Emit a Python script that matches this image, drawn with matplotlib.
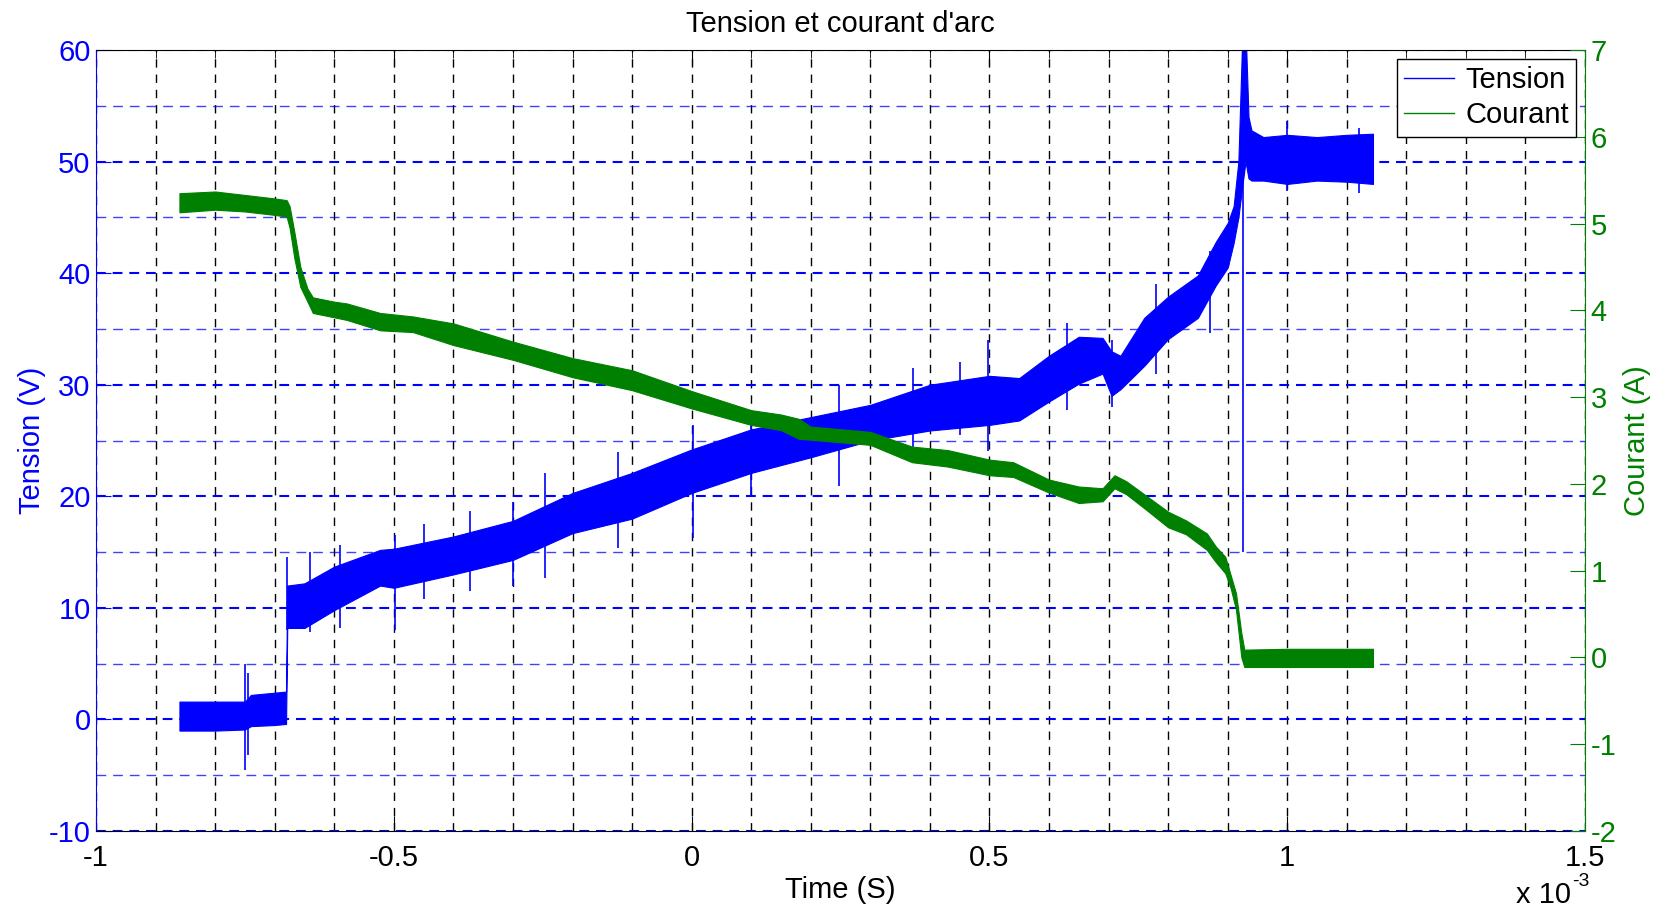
import numpy as np
import matplotlib.pyplot as plt
from matplotlib.ticker import MultipleLocator
from matplotlib.lines import Line2D

plt.rcParams['font.family'] = ['Liberation Sans', 'DejaVu Sans']
plt.rcParams['font.size'] = 21
plt.rcParams['axes.unicode_minus'] = False

# time in ms (axis shows x 10^-3 s)
tension_t = [-0.86, -0.80, -0.75, -0.74, -0.70, -0.681, -0.679, -0.65, -0.60, -0.523,
             -0.50, -0.40, -0.30, -0.20, -0.10, 0.0, 0.10, 0.20, 0.30, 0.40,
             0.50, 0.55, 0.60, 0.65, 0.69, 0.705, 0.72, 0.76, 0.80, 0.85,
             0.88, 0.90, 0.91, 0.918, 0.925, 0.93, 0.935, 0.94, 0.96, 1.00,
             1.05, 1.10, 1.144]
tension_lo = [-1.0, -1.0, -0.9, -0.6, -0.5, -0.4, 8.2, 8.2, 9.8, 12.0,
              11.8, 13.0, 14.3, 16.7, 18.0, 20.3, 22.1, 23.5, 25.0, 25.9,
              26.4, 26.8, 28.5, 30.1, 31.0, 29.0, 29.6, 31.7, 34.1, 36.0,
              38.9, 40.5, 42.7, 45.0, 48.0, 50.0, 48.5, 48.3, 48.3, 48.0,
              48.3, 48.2, 48.0]
tension_hi = [1.6, 1.6, 1.6, 2.2, 2.4, 2.5, 12.0, 12.2, 13.7, 15.2,
              15.3, 16.4, 17.8, 20.3, 22.1, 24.2, 26.0, 27.1, 28.2, 30.0,
              30.8, 30.6, 32.6, 34.3, 34.2, 33.0, 32.6, 36.0, 37.9, 39.8,
              42.8, 44.5, 46.0, 50.0, 62.0, 62.0, 54.0, 52.8, 52.2, 52.4,
              52.2, 52.4, 52.5]

# isolated spikes on the tension trace
spike_t = [-0.75, -0.745, -0.68, -0.64, -0.59, -0.498, -0.45, -0.372, -0.30, -0.246,
           -0.124, 0.002, 0.10, 0.248, 0.372, 0.45, 0.498, 0.63, 0.706, 0.78,
           0.87, 0.926, 0.999, 1.12]
spike_lo = [-4.5, -3.2, 8.0, 7.8, 8.2, 8.0, 10.8, 11.5, 12.0, 12.7,
            15.4, 16.3, 20.0, 20.9, 24.4, 25.5, 24.1, 27.7, 28.0, 31.0,
            34.6, 15.0, 47.4, 47.2]
spike_hi = [5.0, 4.2, 14.6, 15.0, 15.6, 16.5, 17.5, 18.7, 19.5, 22.1,
            24.0, 26.4, 27.5, 30.0, 31.5, 32.0, 34.0, 35.5, 34.0, 39.0,
            42.0, 60.0, 53.6, 53.0]

courant_t = [-0.86, -0.80, -0.75, -0.70, -0.68, -0.675, -0.667, -0.657, -0.645, -0.636,
             -0.60, -0.579, -0.523, -0.468, -0.40, -0.30, -0.20, -0.10, 0.0, 0.10,
             0.15, 0.18, 0.20, 0.30, 0.37, 0.43, 0.50, 0.54, 0.60, 0.65,
             0.69, 0.71, 0.73, 0.76, 0.80, 0.83, 0.865, 0.88, 0.896, 0.905,
             0.914, 0.923, 0.928, 1.00, 1.144]
courant_lo = [5.13, 5.16, 5.14, 5.10, 5.08, 4.95, 4.60, 4.27, 4.10, 3.97,
              3.92, 3.89, 3.77, 3.75, 3.60, 3.43, 3.23, 3.08, 2.87, 2.68,
              2.62, 2.52, 2.51, 2.45, 2.25, 2.20, 2.10, 2.08, 1.90, 1.78,
              1.80, 1.95, 1.88, 1.72, 1.50, 1.42, 1.24, 1.10, 0.97, 0.80,
              0.55, 0.0, -0.11, -0.11, -0.11]
courant_hi = [5.35, 5.37, 5.33, 5.29, 5.27, 5.20, 4.90, 4.50, 4.25, 4.15,
              4.10, 4.08, 3.97, 3.93, 3.85, 3.64, 3.45, 3.31, 3.07, 2.85,
              2.80, 2.75, 2.66, 2.60, 2.43, 2.39, 2.28, 2.25, 2.05, 1.97,
              1.95, 2.10, 2.03, 1.88, 1.68, 1.58, 1.43, 1.28, 1.16, 0.95,
              0.74, 0.28, 0.09, 0.10, 0.10]

blue = (0, 0, 1)
green = (0, 0.5, 0)

fig = plt.figure(figsize=(16.59, 9.10), dpi=100)
ax1 = fig.add_axes([0.0579, 0.0868, 0.8975, 0.8582])
ax2 = ax1.twinx()

ax1.fill_between(tension_t, tension_lo, tension_hi, color=blue, lw=0.8)
ax1.vlines(spike_t, spike_lo, spike_hi, color=blue, lw=1.2)
ax2.fill_between(courant_t, courant_lo, courant_hi, color=green, lw=0.8)

ax1.set_xlim(-1, 1.5)
ax1.set_ylim(-10, 60)
ax2.set_ylim(-2, 7)

ax1.xaxis.set_major_locator(MultipleLocator(0.5))
ax1.xaxis.set_minor_locator(MultipleLocator(0.1))
ax1.yaxis.set_major_locator(MultipleLocator(10))
ax1.yaxis.set_minor_locator(MultipleLocator(5))
ax2.yaxis.set_major_locator(MultipleLocator(1))
ax1.xaxis.set_major_formatter(plt.FuncFormatter(lambda v, p: '%g' % v))

ax1.set_axisbelow(True)
ax1.grid(which='both', axis='x', color='k', ls=(0, (6, 5)), lw=1)
ax1.grid(which='major', axis='y', color=blue, ls=(0, (4.7, 3.3)), lw=1.5)
ax1.grid(which='minor', axis='y', color=blue, ls=(0, (7, 5)), lw=1, alpha=0.75)

ax1.tick_params(axis='x', which='major', direction='in', length=11, top=True, pad=9)
ax1.tick_params(axis='x', which='minor', direction='in', length=6, top=True)
ax1.tick_params(axis='y', which='major', direction='in', length=11, colors=blue, pad=4)
ax1.tick_params(axis='y', which='minor', length=0)
ax2.tick_params(axis='y', which='major', direction='in', length=11, colors=green, pad=4)

ax1.spines['left'].set_color(blue)
ax1.spines['right'].set_visible(False)
for s in ['left', 'top', 'bottom']:
    ax2.spines[s].set_visible(False)
ax2.spines['right'].set_color(green)

ax1.set_ylabel('Tension (V)', color=blue, labelpad=2)
ax2.set_ylabel('Courant (A)', color=green, labelpad=5)
ax1.set_xlabel('Time (S)', labelpad=3)
ax1.set_title("Tension et courant d'arc", fontsize=21, pad=13)

handles = [Line2D([], [], color=blue, lw=1), Line2D([], [], color=green, lw=1)]
leg = ax2.legend(handles, ['Tension', 'Courant'], loc='upper right', fancybox=False,
                 edgecolor='k', framealpha=1, handlelength=1.7, handletextpad=0.4,
                 labelspacing=0.25, borderaxespad=0.3, borderpad=0.25)
leg.get_frame().set_linewidth(1)

fig.text(1516 / 1659, 1 - 903 / 910, 'x 10', fontsize=21, va='baseline')
fig.text(1572 / 1659, 1 - 886 / 910, '-3', fontsize=14, va='baseline')

fig.savefig('out.png', dpi=100)
